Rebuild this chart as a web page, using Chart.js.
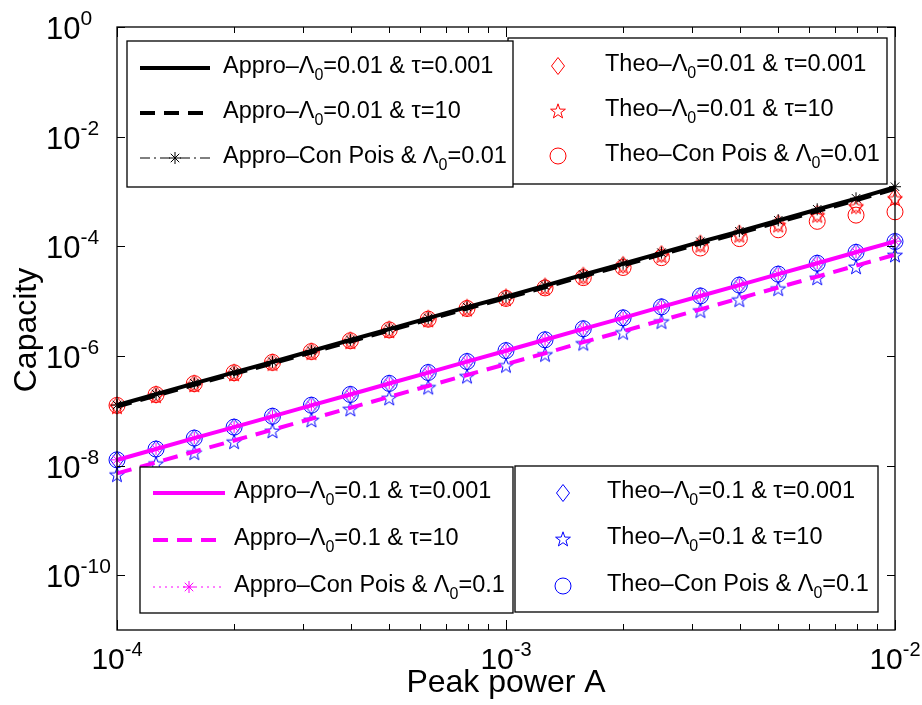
<!DOCTYPE html>
<html>
<head>
<meta charset="utf-8">
<script src="https://cdn.jsdelivr.net/npm/chart.js@4/dist/chart.umd.min.js"></script>
<style>
  html, body { margin: 0; padding: 0; background: #fff; }
</style>
</head>
<body>
<canvas id="capacityChart" width="922" height="705"></canvas>
<script>
const FONT = '"Liberation Sans", Arial, Helvetica, sans-serif';

// peak power A, 10 points per decade
const peakPower = [1.00e-4, 1.26e-4, 1.58e-4, 2.00e-4, 2.51e-4, 3.16e-4, 3.98e-4, 5.01e-4, 6.31e-4, 7.94e-4,
  1.00e-3, 1.26e-3, 1.58e-3, 2.00e-3, 2.51e-3, 3.16e-3, 3.98e-3, 5.01e-3, 6.31e-3, 7.94e-3, 1.00e-2];

// Lambda_0 = 0.01
const approL001T0001 = [1.26e-7, 2.00e-7, 3.16e-7, 5.01e-7, 7.76e-7, 1.23e-6, 1.95e-6, 3.09e-6, 4.90e-6, 7.76e-6,
  1.20e-5, 1.91e-5, 3.02e-5, 4.79e-5, 7.59e-5, 1.20e-4, 1.86e-4, 2.95e-4, 4.68e-4, 7.41e-4, 1.20e-3];
const approL001T10 = [1.19e-7, 1.88e-7, 2.97e-7, 4.70e-7, 7.30e-7, 1.15e-6, 1.83e-6, 2.90e-6, 4.60e-6, 7.28e-6,
  1.13e-5, 1.79e-5, 2.83e-5, 4.49e-5, 7.11e-5, 1.12e-4, 1.74e-4, 2.76e-4, 4.37e-4, 6.92e-4, 1.12e-3];
const approConL001 = [1.27e-7, 2.01e-7, 3.18e-7, 5.04e-7, 7.81e-7, 1.24e-6, 1.96e-6, 3.11e-6, 4.93e-6, 7.81e-6,
  1.21e-5, 1.92e-5, 3.04e-5, 4.82e-5, 7.64e-5, 1.21e-4, 1.88e-4, 2.98e-4, 4.73e-4, 7.50e-4, 1.22e-3];
const theoL001T0001 = [1.25e-7, 1.98e-7, 3.13e-7, 4.96e-7, 7.68e-7, 1.21e-6, 1.92e-6, 3.04e-6, 4.80e-6, 7.58e-6,
  1.17e-5, 1.85e-5, 2.91e-5, 4.58e-5, 7.20e-5, 1.12e-4, 1.70e-4, 2.60e-4, 3.90e-4, 5.60e-4, 7.90e-4];
const theoL001T10 = [1.18e-7, 1.87e-7, 2.95e-7, 4.67e-7, 7.23e-7, 1.14e-6, 1.80e-6, 2.85e-6, 4.50e-6, 7.10e-6,
  1.10e-5, 1.73e-5, 2.72e-5, 4.28e-5, 6.70e-5, 1.04e-4, 1.58e-4, 2.42e-4, 3.65e-4, 5.30e-4, 7.40e-4];
const theoConL001 = [1.25e-7, 1.97e-7, 3.12e-7, 4.93e-7, 7.62e-7, 1.20e-6, 1.89e-6, 2.98e-6, 4.68e-6, 7.33e-6,
  1.12e-5, 1.74e-5, 2.68e-5, 4.10e-5, 6.20e-5, 9.30e-5, 1.38e-4, 2.00e-4, 2.85e-4, 3.70e-4, 4.25e-4];

// Lambda_0 = 0.1
const approL01T0001 = [1.26e-8, 2.00e-8, 3.16e-8, 5.01e-8, 7.90e-8, 1.25e-7, 1.98e-7, 3.14e-7, 4.97e-7, 7.88e-7,
  1.24e-6, 1.97e-6, 3.12e-6, 4.94e-6, 7.82e-6, 1.24e-5, 1.96e-5, 3.10e-5, 4.91e-5, 7.77e-5, 1.23e-4];
const approL01T10 = [7.20e-9, 1.14e-8, 1.80e-8, 2.86e-8, 4.50e-8, 7.13e-8, 1.13e-7, 1.79e-7, 2.83e-7, 4.49e-7,
  7.07e-7, 1.12e-6, 1.78e-6, 2.82e-6, 4.46e-6, 7.07e-6, 1.12e-5, 1.77e-5, 2.80e-5, 4.43e-5, 7.01e-5];
const approConL01 = [1.27e-8, 2.01e-8, 3.18e-8, 5.04e-8, 7.95e-8, 1.26e-7, 1.99e-7, 3.16e-7, 5.00e-7, 7.92e-7,
  1.25e-6, 1.98e-6, 3.14e-6, 4.97e-6, 7.87e-6, 1.25e-5, 1.97e-5, 3.12e-5, 4.94e-5, 7.82e-5, 1.24e-4];
const theoL01T0001 = [1.26e-8, 1.99e-8, 3.15e-8, 4.99e-8, 7.88e-8, 1.25e-7, 1.97e-7, 3.13e-7, 4.95e-7, 7.85e-7,
  1.24e-6, 1.96e-6, 3.11e-6, 4.92e-6, 7.79e-6, 1.23e-5, 1.95e-5, 3.08e-5, 4.88e-5, 7.72e-5, 1.22e-4];
const theoL01T10 = [6.80e-9, 1.08e-8, 1.71e-8, 2.71e-8, 4.27e-8, 6.76e-8, 1.07e-7, 1.70e-7, 2.68e-7, 4.25e-7,
  6.70e-7, 1.06e-6, 1.69e-6, 2.67e-6, 4.22e-6, 6.70e-6, 1.06e-5, 1.68e-5, 2.65e-5, 4.20e-5, 6.90e-5];
const theoConL01 = [1.27e-8, 2.00e-8, 3.17e-8, 5.02e-8, 7.93e-8, 1.26e-7, 1.98e-7, 3.15e-7, 4.98e-7, 7.90e-7,
  1.25e-6, 1.97e-6, 3.13e-6, 4.95e-6, 7.84e-6, 1.24e-5, 1.96e-5, 3.10e-5, 4.90e-5, 7.75e-5, 1.22e-4];

const xTicks = [1e-4, 1e-3, 1e-2];
const xTickLabels = ['10^{-4}', '10^{-3}', '10^{-2}'];
const xMinorTicks = [2e-4, 3e-4, 4e-4, 5e-4, 6e-4, 7e-4, 8e-4, 9e-4, 2e-3, 3e-3, 4e-3, 5e-3, 6e-3, 7e-3, 8e-3, 9e-3];
const yTicks = [1e0, 1e-2, 1e-4, 1e-6, 1e-8, 1e-10];
const yTickLabels = ['10^{0}', '10^{-2}', '10^{-4}', '10^{-6}', '10^{-8}', '10^{-10}'];

const seriesNames = [
  'Appro–Λ_{0}=0.01 & τ=0.001',
  'Appro–Λ_{0}=0.01 & τ=10',
  'Appro–Con Pois & Λ_{0}=0.01',
  'Theo–Λ_{0}=0.01 & τ=0.001',
  'Theo–Λ_{0}=0.01 & τ=10',
  'Theo–Con Pois & Λ_{0}=0.01',
  'Appro–Λ_{0}=0.1 & τ=0.001',
  'Appro–Λ_{0}=0.1 & τ=10',
  'Appro–Con Pois & Λ_{0}=0.1',
  'Theo–Λ_{0}=0.1 & τ=0.001',
  'Theo–Λ_{0}=0.1 & τ=10',
  'Theo–Con Pois & Λ_{0}=0.1',
];

// outlined marker images (pentagram, tall diamond)
function starMarker(color) {
  const c = document.createElement('canvas');
  c.width = c.height = 18;
  const g = c.getContext('2d');
  g.strokeStyle = color;
  g.lineWidth = 1;
  g.beginPath();
  for (let i = 0; i < 10; i++) {
    const r = i % 2 ? 3.1 : 7.8;
    const a = -Math.PI / 2 + i * Math.PI / 5;
    const px = 9 + r * Math.cos(a), py = 9.6 + r * Math.sin(a);
    i ? g.lineTo(px, py) : g.moveTo(px, py);
  }
  g.closePath();
  g.stroke();
  return c;
}
function diamondMarker(color) {
  const c = document.createElement('canvas');
  c.width = 16; c.height = 20;
  const g = c.getContext('2d');
  g.strokeStyle = color;
  g.lineWidth = 1;
  g.beginPath();
  g.moveTo(8, 1.5); g.lineTo(14.5, 10); g.lineTo(8, 18.5); g.lineTo(1.5, 10);
  g.closePath();
  g.stroke();
  return c;
}

const pts = (ys) => peakPower.map((x, i) => ({ x, y: ys[i] }));

function lineSet(label, ys, color, width, dash, marker) {
  return {
    label, data: pts(ys), showLine: true, clip: false,
    borderColor: color, borderWidth: width, borderDash: dash,
    pointStyle: marker ? 'star' : false, pointRadius: marker ? 6 : 0,
    pointBorderColor: color, pointBorderWidth: 1, pointBackgroundColor: 'rgba(0,0,0,0)',
  };
}
function markerSet(label, ys, color, style) {
  const img = style === 'star' ? starMarker(color) : style === 'diamond' ? diamondMarker(color) : 'circle';
  return {
    label, data: pts(ys), showLine: false, clip: false,
    pointStyle: img, pointRadius: 8, pointBorderWidth: 1,
    pointBorderColor: color, pointBackgroundColor: 'rgba(0,0,0,0)',
  };
}

// first dataset is painted last, so lines come first
const datasets = [
  lineSet(seriesNames[2], approConL001, '#000000', 1, [10, 4, 2, 4], true),
  lineSet(seriesNames[8], approConL01, '#ff00ff', 1, [2, 4], true),
  lineSet(seriesNames[0], approL001T0001, '#000000', 4, [], false),
  lineSet(seriesNames[1], approL001T10, '#000000', 4, [15, 9], false),
  lineSet(seriesNames[6], approL01T0001, '#ff00ff', 4, [], false),
  lineSet(seriesNames[7], approL01T10, '#ff00ff', 4, [15, 9], false),
  markerSet(seriesNames[3], theoL001T0001, '#ff0000', 'diamond'),
  markerSet(seriesNames[4], theoL001T10, '#ff0000', 'star'),
  markerSet(seriesNames[5], theoConL001, '#ff0000', 'circle'),
  markerSet(seriesNames[9], theoL01T0001, '#0000ff', 'diamond'),
  markerSet(seriesNames[10], theoL01T10, '#0000ff', 'star'),
  markerSet(seriesNames[11], theoConL01, '#0000ff', 'circle'),
];

// text with ^{..} superscripts and _{..} subscripts
function drawRich(ctx, str, x, y, size, align) {
  const parts = [];
  const re = /([\^_])\{([^}]*)\}/g;
  let last = 0, m;
  while ((m = re.exec(str))) {
    if (m.index > last) parts.push({ t: str.slice(last, m.index), k: '' });
    parts.push({ t: m[2], k: m[1] });
    last = re.lastIndex;
  }
  if (last < str.length) parts.push({ t: str.slice(last), k: '' });
  const small = Math.round(size * 0.68);
  let total = 0;
  parts.forEach((p) => {
    ctx.font = (p.k ? small : size) + 'px ' + FONT;
    p.w = ctx.measureText(p.t).width;
    total += p.w;
  });
  let cx = align === 'center' ? x - total / 2 : x;
  ctx.textAlign = 'left';
  ctx.textBaseline = 'alphabetic';
  parts.forEach((p) => {
    ctx.font = (p.k ? small : size) + 'px ' + FONT;
    const dy = p.k === '^' ? -size * 0.45 : p.k === '_' ? size * 0.3 : 0;
    ctx.fillText(p.t, cx, y + dy);
    cx += p.w;
  });
}

const legendBoxes = [
  { left: 508, top: 38, right: 887, bottom: 184, markerX: 558, textX: 605, rows: [66, 111, 156], items: [3, 4, 5] },
  { left: 127, top: 41, right: 513, bottom: 187, lineFrom: 140, lineTo: 210, textX: 223, rows: [68, 113, 158], items: [0, 1, 2] },
  { left: 515, top: 466, right: 878, bottom: 612, markerX: 563, textX: 607, rows: [493, 539, 586], items: [9, 10, 11] },
  { left: 140, top: 467, right: 513, bottom: 613, lineFrom: 153, lineTo: 225, textX: 234, rows: [493, 540, 587], items: [6, 7, 8] },
];

const framePlugin = {
  id: 'frame',
  afterDraw(chart) {
    const { ctx, chartArea: a, scales } = chart;
    const sx = scales.x, sy = scales.y;
    ctx.save();
    ctx.strokeStyle = '#000';
    ctx.fillStyle = '#000';

    // axes box and inward ticks
    ctx.lineWidth = 1.3;
    ctx.strokeRect(a.left, a.top, a.right - a.left, a.bottom - a.top);
    ctx.lineWidth = 1;
    ctx.beginPath();
    xTicks.concat(xMinorTicks).forEach((v) => {
      const px = Math.round(sx.getPixelForValue(v)) + 0.5;
      const len = xTicks.includes(v) ? 10 : 6;
      ctx.moveTo(px, a.bottom); ctx.lineTo(px, a.bottom - len);
      ctx.moveTo(px, a.top); ctx.lineTo(px, a.top + len);
    });
    yTicks.forEach((v) => {
      const py = Math.round(sy.getPixelForValue(v)) + 0.5;
      ctx.moveTo(a.left, py); ctx.lineTo(a.left + 8, py);
      ctx.moveTo(a.right, py); ctx.lineTo(a.right - 8, py);
    });
    ctx.stroke();

    // tick labels
    xTicks.forEach((v, i) => drawRich(ctx, xTickLabels[i], sx.getPixelForValue(v), 669, 30, 'center'));
    yTicks.forEach((v, i) => drawRich(ctx, yTickLabels[i], 46, sy.getPixelForValue(v) + 12, 31, 'left'));

    // axis titles
    ctx.font = '32px ' + FONT;
    ctx.textAlign = 'center';
    ctx.textBaseline = 'alphabetic';
    ctx.fillText('Peak power A', (a.left + a.right) / 2, 692);
    ctx.save();
    ctx.translate(36, 330);
    ctx.rotate(-Math.PI / 2);
    ctx.fillText('Capacity', 0, 0);
    ctx.restore();

    // legend boxes
    legendBoxes.forEach((box) => {
      ctx.fillStyle = '#fff';
      ctx.fillRect(box.left, box.top, box.right - box.left, box.bottom - box.top);
      ctx.strokeStyle = '#000';
      ctx.lineWidth = 1.3;
      ctx.setLineDash([]);
      ctx.strokeRect(box.left, box.top, box.right - box.left, box.bottom - box.top);
      box.items.forEach((n, r) => {
        const ds = datasets.find((d) => d.label === seriesNames[n]);
        const y = box.rows[r];
        let mx = box.markerX;
        if (box.lineFrom !== undefined) {
          ctx.strokeStyle = ds.borderColor;
          ctx.lineWidth = ds.borderWidth;
          ctx.setLineDash(ds.borderDash);
          ctx.beginPath();
          ctx.moveTo(box.lineFrom, y); ctx.lineTo(box.lineTo, y);
          ctx.stroke();
          ctx.setLineDash([]);
          mx = (box.lineFrom + box.lineTo) / 2;
        }
        if (ds.pointRadius > 0) {
          ctx.strokeStyle = ds.pointBorderColor;
          ctx.fillStyle = 'rgba(0,0,0,0)';
          ctx.lineWidth = ds.pointBorderWidth;
          Chart.helpers.drawPoint(ctx, { pointStyle: ds.pointStyle, radius: ds.pointRadius, rotation: 0, borderWidth: ds.pointBorderWidth }, mx, y);
        }
        ctx.fillStyle = '#000';
        drawRich(ctx, seriesNames[n], box.textX, y + 5, 23.5, 'left');
      });
    });
    ctx.restore();
  },
};

new Chart(document.getElementById('capacityChart'), {
  type: 'scatter',
  data: { datasets },
  options: {
    responsive: false,
    animation: false,
    events: [],
    layout: { padding: { left: 117, right: 27, top: 27, bottom: 75 } },
    plugins: { legend: { display: false }, tooltip: { enabled: false } },
    scales: {
      x: {
        type: 'logarithmic', min: 1e-4, max: 1e-2,
        grid: { display: false }, border: { display: false }, ticks: { display: false },
        afterFit: (s) => { s.height = 0; },
      },
      y: {
        type: 'logarithmic', min: 1e-11, max: 1,
        grid: { display: false }, border: { display: false }, ticks: { display: false },
        afterFit: (s) => { s.width = 0; },
      },
    },
  },
  plugins: [framePlugin],
});
</script>
</body>
</html>
